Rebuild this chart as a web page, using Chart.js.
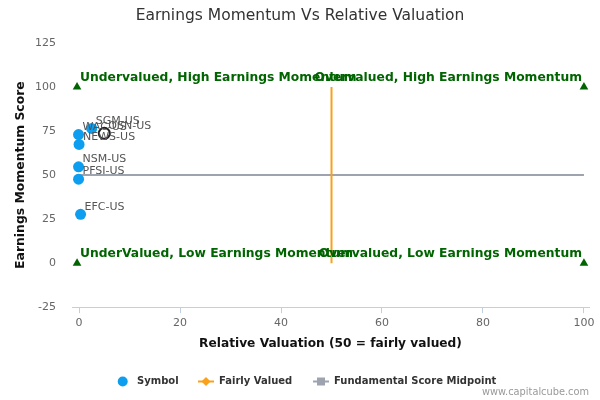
<!DOCTYPE html>
<html>
<head>
<meta charset="utf-8">
<script src="https://cdn.jsdelivr.net/npm/chart.js@4.4.1/dist/chart.umd.min.js"></script>
<style>
  html, body { margin: 0; padding: 0; background: #fff; }
  #wrap { width: 600px; height: 400px; }
</style>
</head>
<body>
<div id="wrap"><canvas id="myChart" width="600" height="400"></canvas></div>
<script>
// data
var symbols = ['SGM-US', 'WAC-US', 'OSN-US', 'NEWS-US', 'NSM-US', 'PFSI-US', 'EFC-US'];
var valuation = [2.5, -0.1, 5.0, 0.0, -0.1, -0.1, 0.3];
var momentum = [76.5, 73.0, 73.7, 67.4, 54.7, 47.7, 27.7];
var highlighted = 'OSN-US';

var fairX = [50, 50];
var fairY = [0, 100];
var midX = [-0.5, 100];
var midY = [50, 50];

var cornerX = [-0.4, 100, -0.4, 100];
var cornerY = [100, 100, 0, 0];
var cornerText = [
  'Undervalued, High Earnings Momentum',
  'Overvalued, High Earnings Momentum',
  'UnderValued, Low Earnings Momentum',
  'Overvalued, Low Earnings Momentum'
];

var xTicks = [0, 20, 40, 60, 80, 100];
var yTicks = [-25, 0, 25, 50, 75, 100, 125];

var FONT = "'DejaVu Sans', sans-serif";
var blue = '#0d9ef0';
var orange = '#f9a11b';
var grey = '#9ea3b0';
var green = '#006400';

function pts(xs, ys) {
  return xs.map(function (x, i) { return { x: x, y: ys[i] }; });
}

var symbolData = pts(valuation, momentum);

// point labels, quadrant texts, title, legend and credit
var extras = {
  id: 'extras',
  afterDatasetsDraw: function (chart) {
    var ctx = chart.ctx;
    var xs = chart.scales.x, ys = chart.scales.y;
    ctx.save();
    // symbol labels
    ctx.font = '11px ' + FONT;
    ctx.fillStyle = '#555';
    ctx.textAlign = 'left';
    ctx.textBaseline = 'bottom';
    symbols.forEach(function (s, i) {
      var px = xs.getPixelForValue(valuation[i]);
      var py = ys.getPixelForValue(momentum[i]);
      ctx.fillText(s, px + 4, py - 2);
    });
    // quadrant labels
    ctx.font = 'bold 12.3px ' + FONT;
    ctx.fillStyle = green;
    ctx.textBaseline = 'bottom';
    cornerText.forEach(function (t, i) {
      var px = xs.getPixelForValue(cornerX[i]);
      var py = ys.getPixelForValue(cornerY[i]);
      if (i % 2 === 0) {
        ctx.textAlign = 'left';
        ctx.fillText(t, px + 3, py - 3);
      } else {
        ctx.textAlign = 'right';
        ctx.fillText(t, px - 2, py - 3);
      }
    });
    ctx.restore();
  },
  afterDraw: function (chart) {
    var ctx = chart.ctx;
    ctx.save();
    // title
    ctx.font = '15.5px ' + FONT;
    ctx.fillStyle = '#333';
    ctx.textAlign = 'center';
    ctx.textBaseline = 'middle';
    ctx.fillText('Earnings Momentum Vs Relative Valuation', 300, 16);

    var y = 381.5;
    ctx.font = 'bold 10px ' + FONT;
    ctx.textAlign = 'left';
    // Symbol
    ctx.beginPath();
    ctx.arc(122.7, y, 5, 0, Math.PI * 2);
    ctx.fillStyle = blue;
    ctx.fill();
    ctx.fillStyle = '#333';
    ctx.fillText(chart.data.datasets[0].label, 137, y);
    // Fairly Valued
    ctx.strokeStyle = orange;
    ctx.lineWidth = 2;
    ctx.beginPath();
    ctx.moveTo(198, y); ctx.lineTo(214, y);
    ctx.stroke();
    ctx.fillStyle = orange;
    ctx.beginPath();
    ctx.moveTo(206, y - 4.5); ctx.lineTo(210.5, y); ctx.lineTo(206, y + 4.5); ctx.lineTo(201.5, y);
    ctx.closePath();
    ctx.fill();
    ctx.fillStyle = '#333';
    ctx.fillText(chart.data.datasets[1].label, 219, y);
    // Midpoint
    ctx.strokeStyle = grey;
    ctx.beginPath();
    ctx.moveTo(313, y); ctx.lineTo(329, y);
    ctx.stroke();
    ctx.fillStyle = grey;
    ctx.fillRect(317, y - 4, 8, 8);
    ctx.fillStyle = '#333';
    ctx.fillText(chart.data.datasets[2].label, 334, y);
    // credit
    ctx.font = '9.8px ' + FONT;
    ctx.fillStyle = '#999';
    ctx.textAlign = 'right';
    ctx.fillText('www.capitalcube.com', 589, 392.5);
    ctx.restore();
  }
};

var ctx = document.getElementById('myChart');
var myChart = new Chart(ctx, {
  type: 'scatter',
  data: {
    datasets: [{
      label: 'Symbol',
      data: symbolData,
      pointRadius: 5.5,
      pointHoverRadius: 5.5,
      backgroundColor: symbols.map(function (s) { return s === highlighted ? 'rgba(0,0,0,0)' : blue; }),
      borderColor: symbols.map(function (s) { return s === highlighted ? '#222' : blue; }),
      borderWidth: symbols.map(function (s) { return s === highlighted ? 2 : 0; }),
      order: 0
    }, {
      label: 'Fairly Valued',
      type: 'line',
      data: pts(fairX, fairY),
      borderColor: orange,
      borderWidth: 2,
      pointRadius: 0,
      order: 2
    }, {
      label: 'Fundamental Score Midpoint',
      type: 'line',
      data: pts(midX, midY),
      borderColor: grey,
      borderWidth: 2,
      pointRadius: 0,
      order: 3
    }, {
      label: 'Quadrants',
      data: pts(cornerX, cornerY),
      pointStyle: 'triangle',
      pointRadius: 5,
      backgroundColor: green,
      borderColor: green,
      borderWidth: 0,
      order: 1
    }]
  },
  options: {
    responsive: false,
    animation: false,
    devicePixelRatio: 1,
    layout: { padding: { left: 0, right: 11, top: 43, bottom: 45 } },
    plugins: {
      legend: { display: false },
      tooltip: { enabled: false },
      title: { display: false }
    },
    scales: {
      x: {
        type: 'linear',
        min: -1.4,
        max: 101,
        afterBuildTicks: function (scale) {
          scale.ticks = xTicks.map(function (v) { return { value: v }; });
        },
        grid: { drawOnChartArea: false, drawTicks: true, tickLength: 6, color: '#c0d0e0' },
        border: { display: true, color: '#c0d0e0', width: 1 },
        ticks: { color: '#666', font: { family: FONT, size: 11 }, padding: 3 },
        title: {
          display: true,
          text: 'Relative Valuation (50 = fairly valued)',
          color: '#111',
          font: { family: FONT, size: 12.2, weight: 'bold' }
        }
      },
      y: {
        type: 'linear',
        min: -25,
        max: 125,
        afterBuildTicks: function (scale) {
          scale.ticks = yTicks.map(function (v) { return { value: v }; });
        },
        afterFit: function (scale) { scale.width = 72; },
        grid: { display: false, drawTicks: false },
        border: { display: false },
        ticks: { color: '#666', font: { family: FONT, size: 11 }, padding: 16 },
        title: {
          display: true,
          text: 'Earnings Momentum Score',
          color: '#111',
          font: { family: FONT, size: 12.4, weight: 'bold' },
          padding: { top: 13, bottom: 4 }
        }
      }
    }
  },
  plugins: [extras]
});
</script>
</body>
</html>
